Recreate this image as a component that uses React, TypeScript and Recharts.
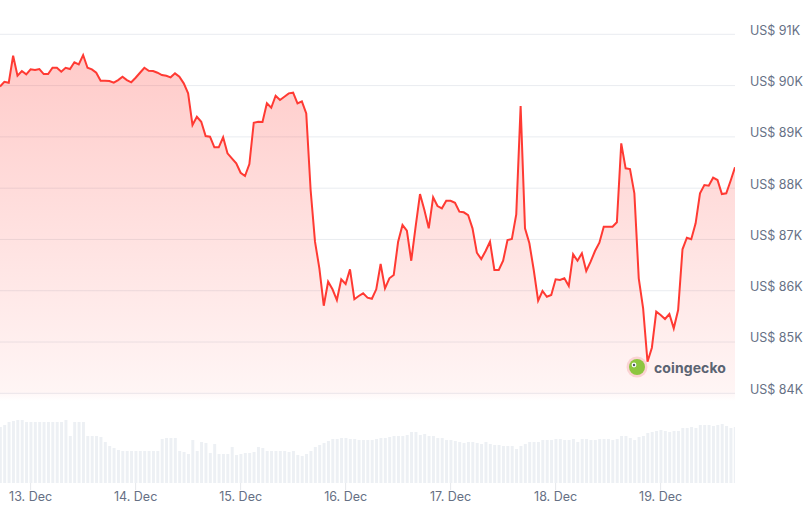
import React from 'react';
import { ComposedChart, Area, Bar, XAxis, YAxis, CartesianGrid } from 'recharts';

// hourly BTC price, starting 12 Dec 17:00 (hour -7 relative to 13 Dec 00:00)
const startHour = -7;

const prices = [
  89980, 90075, 90056, 90582, 90192, 90284, 90220, 90317, 90303, 90323,
  90225, 90225, 90348, 90348, 90270, 90348, 90323, 90454, 90415, 90596,
  90348, 90317, 90251, 90095, 90095, 90089, 90056, 90108, 90173, 90108,
  90064, 90153, 90251, 90348, 90290, 90284, 90251, 90206, 90192, 90161,
  90239, 90173, 90044, 89849, 89231, 89393, 89295, 89017, 89003, 88796,
  88796, 88991, 88679, 88582, 88484, 88301, 88237, 88471, 89276, 89295,
  89290, 89654, 89568, 89802, 89719, 89783, 89849, 89861, 89654, 89693,
  89459, 87964, 86956, 86437, 85708, 86176, 86028, 85819, 86223, 86131,
  86418, 85833, 85897, 85950, 85864, 85844, 86028, 86521, 86047, 86242,
  86307, 86956, 87281, 87170, 86585, 87248, 87886, 87574, 87217, 87821,
  87652, 87607, 87755, 87755, 87716, 87541, 87529, 87476, 87217, 86741,
  86618, 86774, 86956, 86404, 86404, 86585, 86989, 87008, 87490, 89602,
  87217, 86925, 86404, 85805, 85995, 85883, 85917, 86223, 86209, 86242,
  86092, 86710, 86585, 86730, 86384, 86566, 86774, 86936, 87248, 87248,
  87248, 87334, 88874, 88387, 88373, 87899, 86242, 85657, 84616, 84889,
  85591, 85527, 85449, 85546, 85267, 85624, 86808, 87034, 87003, 87314,
  87899, 88061, 88048, 88204, 88159, 87886, 87899, 88145, 88406,
];

// hourly volume (relative units)
const volumes = [
  56, 58, 61, 62, 63, 63, 61, 61, 61, 61,
  61, 61, 61, 61, 61, 63, 47, 61, 61, 61,
  47, 47, 47, 46, 41, 37, 35, 33, 32, 32,
  32, 32, 32, 32, 32, 32, 32, 44, 45, 45,
  45, 32, 31, 29, 43, 32, 41, 40, 30, 39,
  29, 29, 29, 36, 28, 29, 30, 30, 31, 36,
  35, 32, 32, 32, 32, 32, 31, 32, 28, 27,
  29, 32, 36, 38, 40, 42, 44, 44, 45, 45,
  44, 44, 43, 43, 43, 43, 44, 45, 45, 46,
  47, 47, 47, 48, 51, 51, 48, 49, 47, 47,
  45, 45, 43, 43, 42, 41, 40, 41, 41, 40,
  39, 41, 39, 38, 38, 37, 37, 37, 34, 37,
  39, 41, 41, 41, 43, 43, 43, 44, 44, 43,
  43, 44, 41, 44, 44, 43, 43, 44, 44, 44,
  43, 44, 47, 47, 45, 43, 46, 47, 50, 51,
  52, 53, 52, 51, 52, 52, 55, 55, 56, 55,
  58, 58, 58, 57, 58, 59, 57, 55, 56,
];

const dayTicks = [0, 24, 48, 72, 96, 120, 144];
const dayLabels = ['13. Dec', '14. Dec', '15. Dec', '16. Dec', '17. Dec', '18. Dec', '19. Dec'];
const priceTicks = [84000, 85000, 86000, 87000, 88000, 89000, 90000, 91000];

const data = prices.map((p, i) => ({ h: startHour + i, price: p, volume: volumes[i] }));

const FONT = 'Inter, "Noto Sans", sans-serif';

const PriceTick = (props: any) => {
  const { x, y, payload } = props;
  return (
    <text x={x + 15} y={y - 4} dy="0.355em" textAnchor="start" fill="#667085" fontSize={12.5} fontFamily={FONT}>
      {`US$ ${payload.value / 1000}K`}
    </text>
  );
};

export default function App() {
  return (
    <div style={{ position: 'relative', width: 808, height: 514, background: '#fff' }}>
      <style>{'body{margin:0}'}</style>
      <ComposedChart
        width={808}
        height={514}
        data={data}
        margin={{ top: 0, right: 0, left: 0, bottom: 0 }}
      >
        <defs>
          <linearGradient id="priceFill" gradientUnits="userSpaceOnUse" x1="0" y1="0" x2="0" y2="483">
            <stop offset="0" stopColor="#ff3a33" stopOpacity={0.3} />
            <stop offset="0.81" stopColor="#ff3a33" stopOpacity={0.05} />
            <stop offset="0.83" stopColor="#ff3a33" stopOpacity={0} />
          </linearGradient>
        </defs>
        <CartesianGrid yAxisId="price" vertical={false} stroke="#e9ecf0" horizontalValues={priceTicks} />
        <XAxis
          dataKey="h"
          type="number"
          domain={[-7, 161]}
          ticks={dayTicks}
          tickFormatter={(v: number) => dayLabels[dayTicks.indexOf(v)]}
          axisLine={false}
          tickLine={{ stroke: '#e5e7eb' }}
          tickSize={7}
          tickMargin={2}
          height={31}
          tick={{ fill: '#667085', fontSize: 12.5, fontFamily: FONT }}
          allowDataOverflow
        />
        <YAxis
          yAxisId="price"
          orientation="right"
          width={73}
          domain={[82251, 91669]}
          ticks={priceTicks}
          allowDataOverflow
          axisLine={false}
          tickLine={false}
          tickSize={0}
          tickMargin={0}
          tick={<PriceTick />}
        />
        <YAxis yAxisId="vol" hide domain={[0, 483]} allowDataOverflow />
        <Bar yAxisId="vol" dataKey="volume" fill="#edf0f4" barSize={3} isAnimationActive={false} />
        <Area
          yAxisId="price"
          type="linear"
          dataKey="price"
          stroke="#ff3a33"
          strokeWidth={2}
          fill="url(#priceFill)"
          fillOpacity={1}
          dot={false}
          activeDot={false}
          isAnimationActive={false}
        />
      </ComposedChart>
      <div
        style={{
          position: 'absolute',
          left: 626,
          top: 356,
          display: 'flex',
          alignItems: 'center',
          gap: 6,
          fontFamily: FONT,
        }}
      >
        <svg width={22} height={22}>
          <circle cx={11} cy={11} r={10.5} fill="#fbd3d3" />
          <circle cx={11} cy={11} r={8} fill="#8dc63f" />
          <circle cx={8} cy={9} r={2.4} fill="#fff" />
          <circle cx={8} cy={9} r={1.2} fill="#4b5563" />
        </svg>
        <span style={{ fontSize: 14, fontWeight: 700, color: '#5b6472', letterSpacing: 0.1 }}>coingecko</span>
      </div>
    </div>
  );
}
